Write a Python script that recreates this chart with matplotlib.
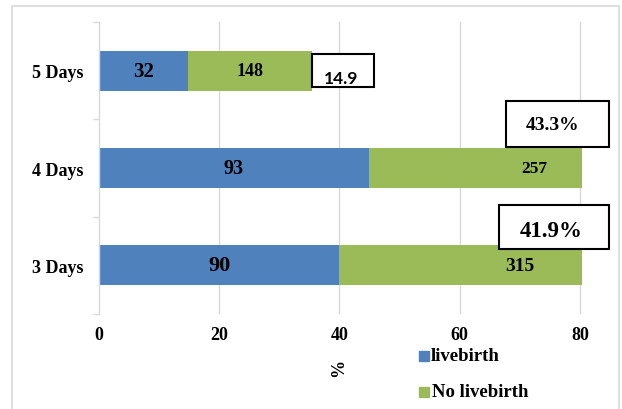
import matplotlib.pyplot as plt
from matplotlib.patches import Rectangle
from matplotlib import font_manager

# data
categories = ['3 Days', '4 Days', '5 Days']
livebirth = [40.0, 45.0, 14.8]
no_livebirth = [40.3, 35.3, 20.6]
live_labels = ['90', '93', '32']
no_live_labels = ['315', '257', '148']
box_labels = ['41.9%', '43.3%', '14.9']

blue = '#4F81BD'
green = '#9BBB59'
grid_c = '#D9D9D9'

plt.rcParams['font.serif'] = ['Liberation Serif', 'Times New Roman', 'DejaVu Serif']
serif = 'serif'
print(font_manager.findfont(font_manager.FontProperties(family='serif', weight='bold')))

W, H = 622, 410
fig = plt.figure(figsize=(W / 100, H / 100), dpi=100)

# axes placed in pixel terms
left, right, top, bottom = 98.7, 98.7 + 82 * 6.016, 23, 315
ax = fig.add_axes([left / W, 1 - bottom / H, (right - left) / W, (bottom - top) / H])

y = list(range(len(categories)))
ax.barh(y, livebirth, height=0.41, color=blue, zorder=2)
ax.barh(y, no_livebirth, left=livebirth, height=0.41, color=green, zorder=2)

ax.set_xlim(0, 82)
ax.set_ylim(-0.5, 2.5)
ax.set_xticks([0, 20, 40, 60, 80])
ax.set_yticks(y)
ax.set_yticklabels(categories)
ax.set_yticks([-0.5, 0.5, 1.5, 2.5], minor=True)

for lbl in ax.get_xticklabels() + ax.get_yticklabels():
    lbl.set_fontfamily(serif)
    lbl.set_fontweight('bold')
    lbl.set_fontsize(13)

ax.tick_params(axis='x', length=0, pad=9)
ax.tick_params(axis='y', which='major', length=0, pad=11)
ax.tick_params(axis='y', which='minor', length=4, color=grid_c, width=1)

for s in ['top', 'right', 'bottom']:
    ax.spines[s].set_visible(False)
ax.spines['left'].set_color(grid_c)
ax.spines['left'].set_linewidth(1)

for xv in [20, 40, 60, 80]:
    ax.axvline(xv, color=grid_c, lw=1, zorder=1)

# value labels inside bars: (x, size)
live_pos = [(20.0, 16), (22.5, 14.5), (7.45, 15)]
no_live_pos = [(70.0, 14), (72.4, 12.5), (25.2, 13)]
for i in y:
    ax.text(live_pos[i][0], i, live_labels[i], ha='center', va='center',
            family=serif, weight='bold', fontsize=live_pos[i][1], zorder=3)
    ax.text(no_live_pos[i][0], i, no_live_labels[i], ha='center', va='center',
            family=serif, weight='bold', fontsize=no_live_pos[i][1], zorder=3)

# boxed annotations: (x0, x1, y0, y1, tx, ty, size, family)
boxes = [
    (66.5, 84.8, 0.167, 0.619, 75.2, 0.36, 16.5, serif),
    (67.7, 84.8, 1.215, 1.688, 75.5, 1.45, 14, serif),
    (35.45, 45.76, 1.832, 2.171, 40.3, 1.925, 12.5, 'Lato'),
]
for (x0, x1, y0, y1, tx, ty, fs, fam), txt in zip(boxes, box_labels):
    ax.add_patch(Rectangle((x0, y0), x1 - x0, y1 - y0, fill=True, facecolor='white',
                           edgecolor='black', lw=1.5, clip_on=False, zorder=4))
    ax.text(tx, ty, txt, ha='center', va='center', family=fam, weight='bold',
            fontsize=fs, zorder=5, clip_on=False)

# x label
fig.text(339 / W, 1 - 368 / H, '%', rotation=90, ha='center', va='center',
         family=serif, weight='bold', fontsize=13)

# legend drawn by hand
for (name, col, yc, tx) in [('livebirth', blue, 357, 431), ('No livebirth', green, 393, 432)]:
    fig.patches.append(Rectangle((419 / W, 1 - (yc + 5) / H), 10 / W, 10 / H,
                                 transform=fig.transFigure, color=col))
    fig.text(tx / W, 1 - yc / H, name, ha='left', va='center',
             family=serif, weight='bold', fontsize=13.5)

# outer border
fig.patches.append(Rectangle((12 / W, -0.05), 607 / W, 1 - 7 / H + 0.05,
                             transform=fig.transFigure, fill=False,
                             edgecolor=grid_c, lw=1.2))

fig.savefig('out.png', dpi=100)
